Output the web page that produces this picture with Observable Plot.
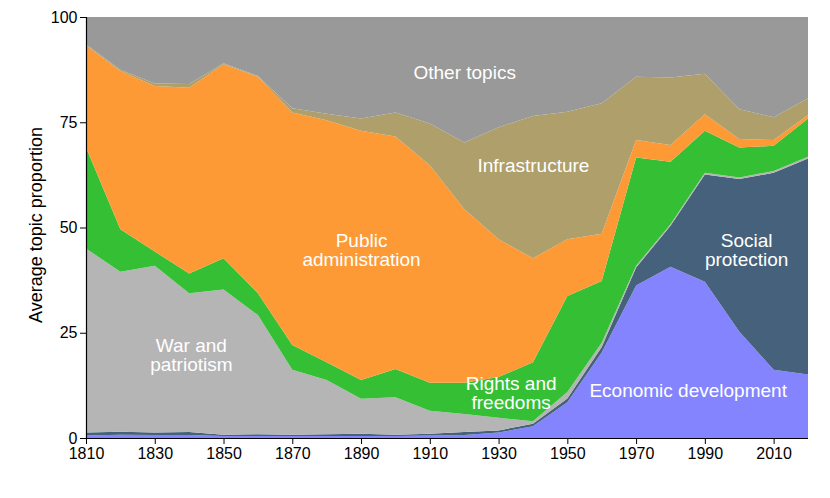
<!DOCTYPE html>
<html>
<head>
<meta charset="utf-8">
<script src="https://cdn.jsdelivr.net/npm/d3@7"></script>
<script src="https://cdn.jsdelivr.net/npm/@observablehq/plot@0.6"></script>
<style>
  html, body { margin: 0; padding: 0; background: #fff; }
  #chart { width: 830px; height: 498px; }
</style>
</head>
<body>
<div id="chart"></div>
<script>
const years = [1810,1820,1830,1840,1850,1860,1870,1880,1890,1900,1910,1920,1930,1940,1950,1960,1970,1980,1990,2000,2010,2020];

const economicDevelopment = [0.6,0.8,0.7,0.7,0.5,0.5,0.5,0.5,0.5,0.5,0.6,0.7,1.3,2.8,8.5,20.3,36.2,40.7,37.1,25.3,16.2,15.1];
const socialProtection    = [0.7,0.7,0.6,0.7,0.3,0.4,0.3,0.4,0.5,0.3,0.4,0.7,0.5,0.6,0.9,1.3,4.3,9.7,25.5,36.2,46.8,51.3];
const warAndPatriotism    = [43.7,38.0,39.6,33.0,34.5,28.3,15.4,12.9,8.3,8.9,5.5,4.3,3.0,0.6,1.5,1.0,0.4,0.4,0.4,0.4,0.4,0.4];
const rightsAndFreedoms   = [24.0,10.1,3.4,4.7,7.4,5.2,5.9,4.2,4.5,6.7,6.6,7.4,9.7,14.0,22.8,14.7,25.7,14.8,10.0,7.1,6.0,9.1];
const publicAdministration= [24.3,37.6,39.3,44.1,46.1,51.4,55.2,57.5,59.2,55.2,51.7,41.3,32.7,24.7,13.5,11.2,4.2,4.0,3.9,2.0,1.4,0.8];
const infrastructure      = [0.2,0.3,0.6,0.9,0.2,0.2,1.0,1.5,2.9,5.7,9.9,15.8,26.6,33.8,30.3,31.0,15.0,16.0,9.6,7.1,5.4,4.0];
const otherTopics         = [6.5,12.5,15.8,15.9,11.0,14.0,21.7,23.0,24.1,22.7,25.3,29.8,26.2,23.5,22.5,20.5,14.2,14.4,13.5,21.9,23.8,19.3];

const topics = ["Economic development","Social protection","War and patriotism","Rights and freedoms","Public administration","Infrastructure","Other topics"];
const colors = ["#8484ff","#45617b","#b5b5b5","#35bf35","#fd9a36","#ae9f6b","#999999"];
const seriesList = [economicDevelopment, socialProtection, warAndPatriotism, rightsAndFreedoms, publicAdministration, infrastructure, otherTopics];

const xTicks = [1810,1830,1850,1870,1890,1910,1930,1950,1970,1990,2010];
const yTicks = [0,25,50,75,100];
const yTitle = "Average topic proportion";

const labelTexts = ["Other topics","Infrastructure","Public\nadministration","War and\npatriotism","Rights and\nfreedoms","Economic development","Social\nprotection"];
const labelYears = [1920,1940,1890,1840.5,1933.5,1985,2002];
const labelValues = [86.9,64.8,44.7,19.7,10.7,11.4,44.7];

const data = [];
topics.forEach((t, i) => {
  years.forEach((yr, j) => data.push({year: yr, topic: t, value: seriesList[i][j]}));
});
const labels = labelTexts.map((t, i) => ({text: t, year: labelYears[i], value: labelValues[i]}));

const chart = Plot.plot({
  width: 830,
  height: 498,
  marginLeft: 86,
  marginRight: 22,
  marginTop: 17,
  marginBottom: 60,
  style: {fontFamily: "'Liberation Sans', Arial, sans-serif", fontSize: "16px", color: "#000", background: "#fff"},
  x: {domain: [1810, 2020]},
  y: {domain: [0, 100]},
  color: {domain: topics, range: colors},
  marks: [
    Plot.areaY(data, {x: "year", y: "value", fill: "topic", order: topics}),
    Plot.ruleY([0], {stroke: "#000", strokeWidth: 1.2}),
    Plot.ruleX([1810], {stroke: "#000", strokeWidth: 1.2}),
    Plot.axisX({ticks: xTicks, tickFormat: d => String(d), tickSize: 6, tickPadding: 3, label: null, fontSize: 16, stroke: "#000"}),
    Plot.axisY({ticks: yTicks, tickSize: 6, tickPadding: 3, label: null, fontSize: 16, stroke: "#000"}),
    Plot.text([yTitle], {frameAnchor: "left", rotate: -90, dx: -50, dy: -3, fontSize: 18, fill: "#000", textAnchor: "middle"}),
    Plot.text(labels, {x: "year", y: "value", text: "text", fill: "#fff", fontSize: 19, lineHeight: 1.0, textAnchor: "middle"})
  ]
});
document.getElementById("chart").appendChild(chart);
</script>
</body>
</html>
